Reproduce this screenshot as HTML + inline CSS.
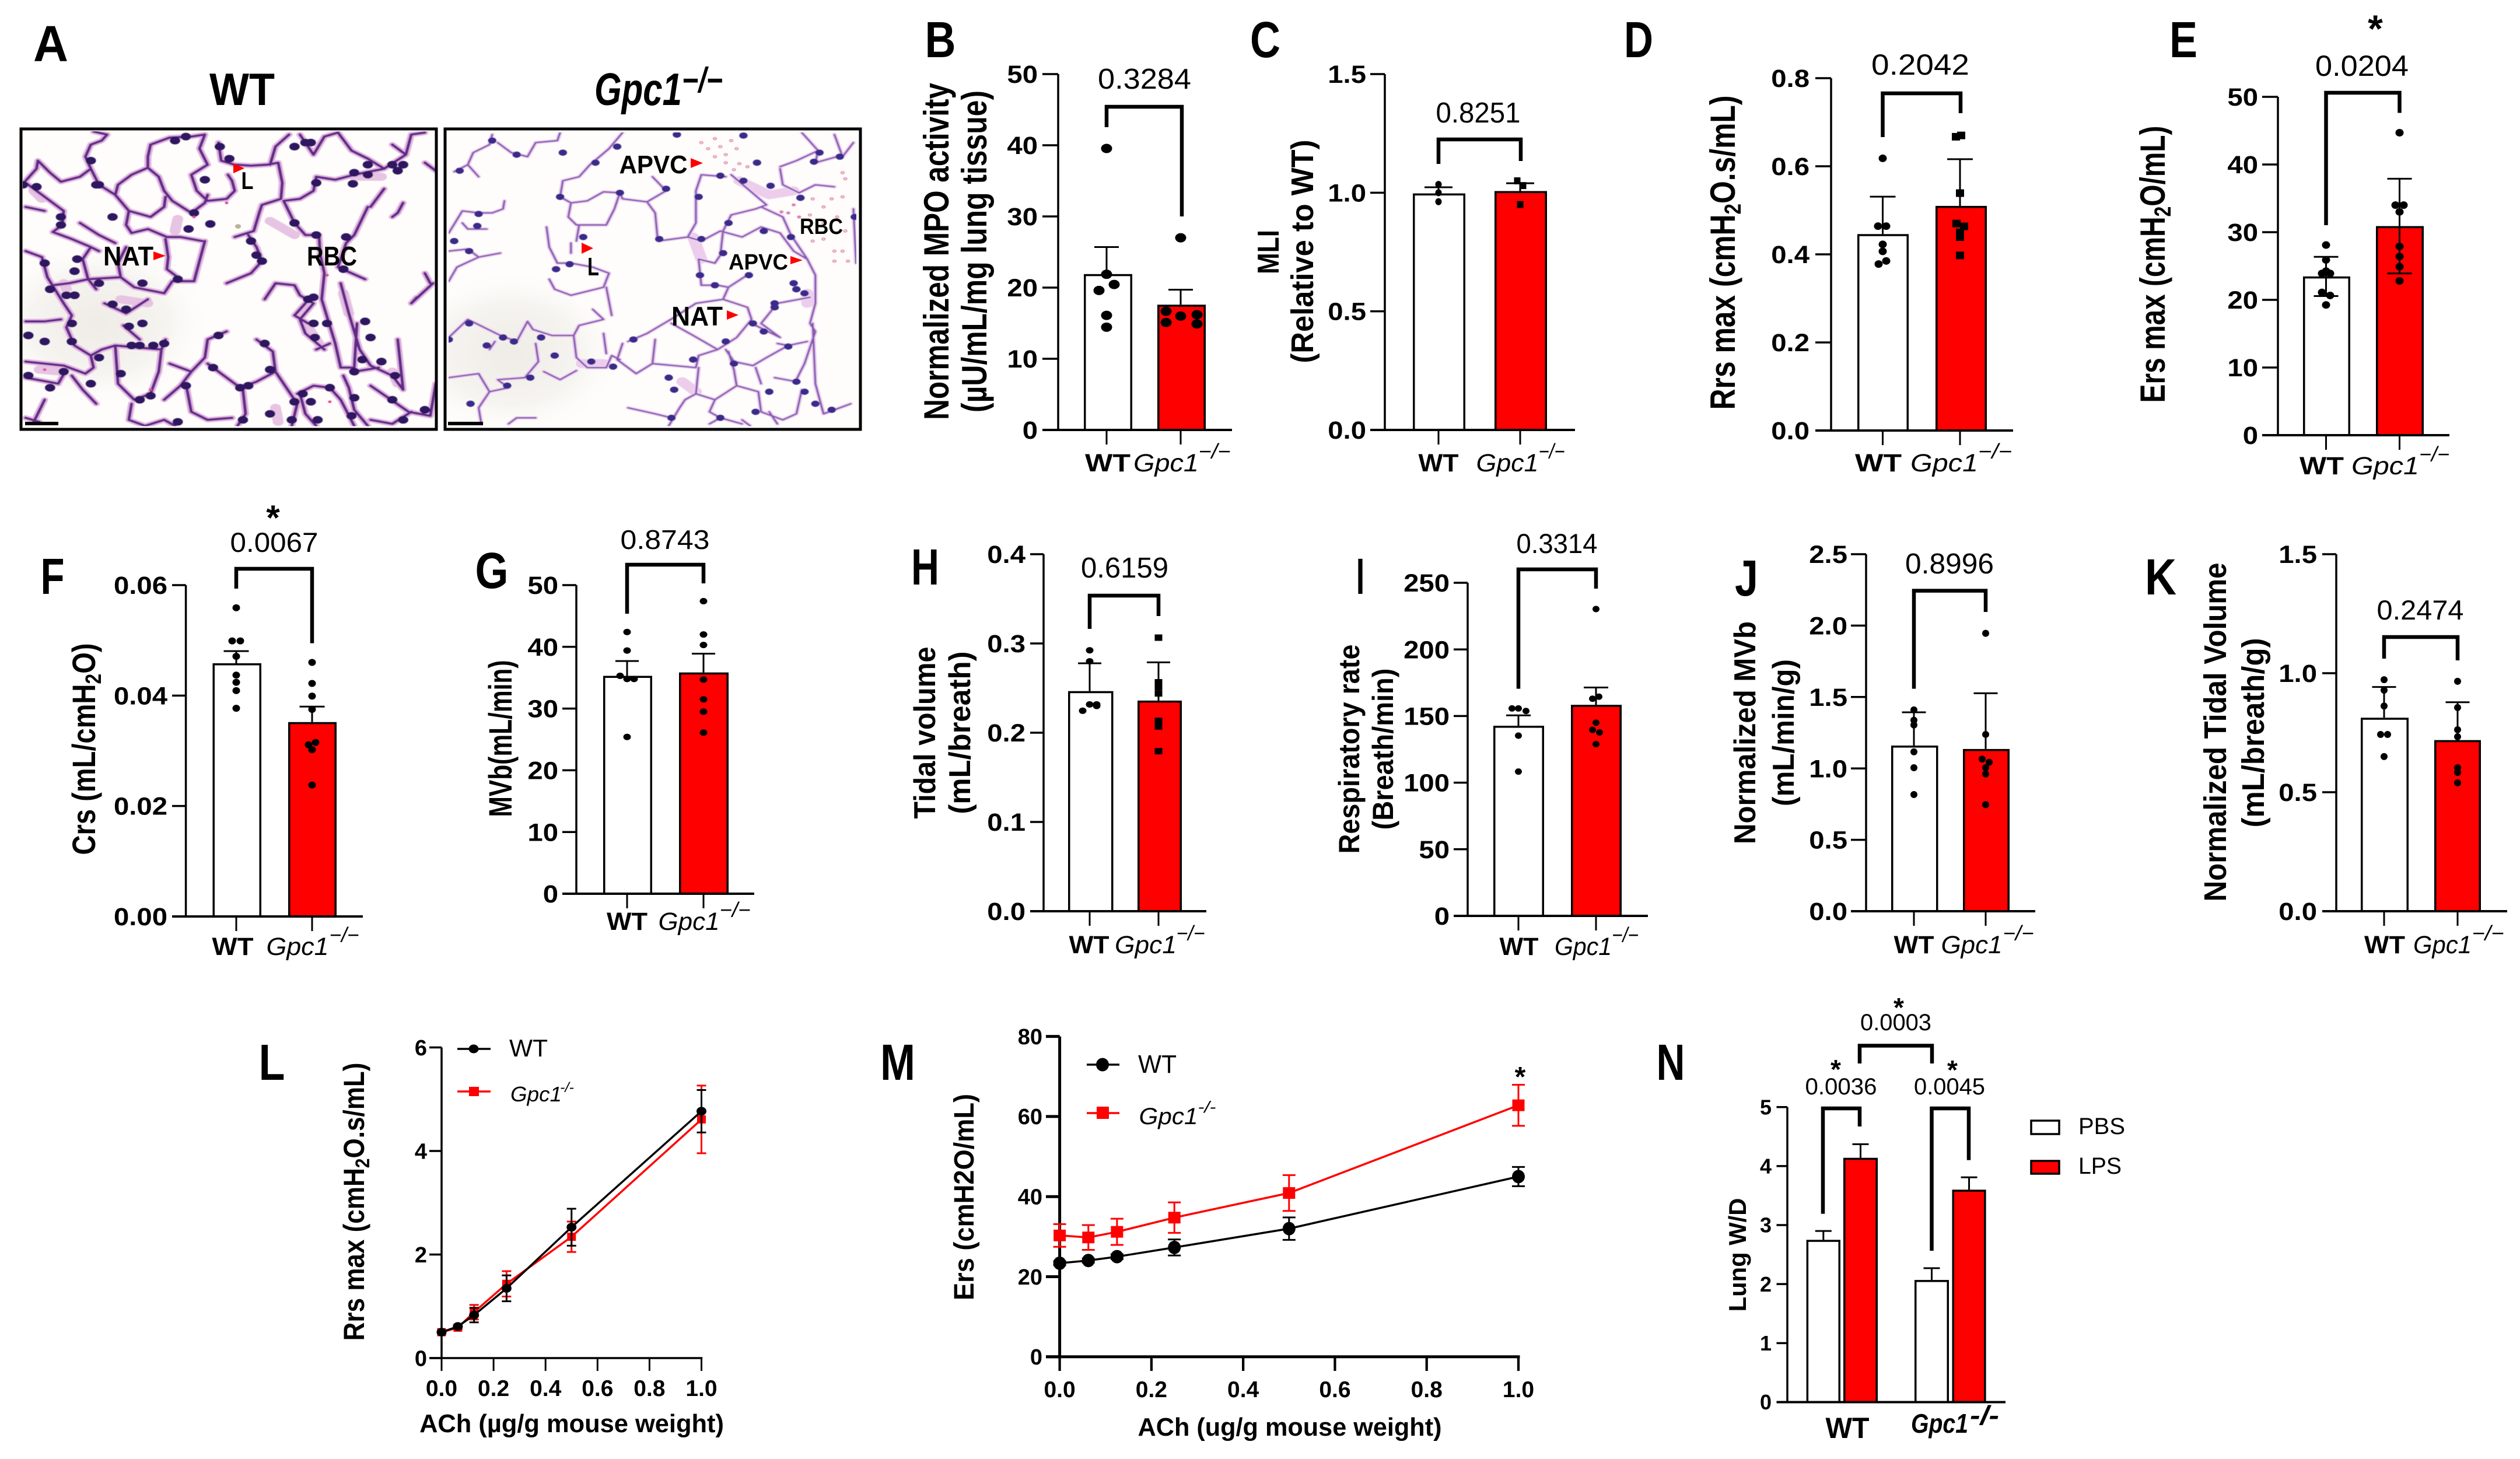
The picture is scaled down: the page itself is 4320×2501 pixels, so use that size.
<!DOCTYPE html>
<html lang="en">
<head>
<meta charset="utf-8">
<title>Lung function panels</title>
<style>
html,body{margin:0;padding:0;background:#fff}
svg{display:block}
text{font-family:"Liberation Sans",Arial,sans-serif;fill:#000;text-anchor:middle}
.b{font-weight:700}
.i{font-style:italic}
.bi{font-weight:700;font-style:italic}
.wall{fill:none;stroke-linejoin:round;stroke-linecap:round}
.dots{fill:none;stroke-linecap:round}
</style>
</head>
<body>
<svg id="fig" xmlns="http://www.w3.org/2000/svg" width="4320" height="2501" viewBox="0 0 4320 2501">
<defs>
<filter id="soft" x="0" y="0" width="1" height="1"><feGaussianBlur stdDeviation="1.6"/></filter>
<radialGradient id="haze" cx=".5" cy=".5" r=".5"><stop offset="0" stop-color="#efece7"/><stop offset=".6" stop-color="#f6f4f0"/><stop offset="1" stop-color="#fefdfb" stop-opacity="0"/></radialGradient>
<clipPath id="clip-wt"><rect x="15" y="32" width="1525" height="1493"/></clipPath>
<clipPath id="clip-ko"><rect x="5" y="32" width="1530" height="1493"/></clipPath>
<path id="wt-walls" d="M280,45 330,60 310,90 270,110 250,170 270,230 230,270 160,295 120,250 75,190 70,230 30,290M30,300 70,340 120,390 170,440 165,510 130,545 200,580 270,620 300,640M480,170 490,110 560,75 640,70 690,60M480,170 480,225 520,270 540,340 570,390 640,450 690,400 700,360M480,225 420,260 370,310 360,360 410,440 490,470 540,420 545,370M270,230 300,310 360,360M410,440 400,510 420,550 480,530 550,570 600,570 680,590M690,60 670,130 700,210 640,260 660,340 700,390 770,380 800,340 790,290 775,260M740,100 750,190 800,210 860,215 920,210 960,200 975,300 970,380 900,410 890,450 870,540 800,570M930,210 950,120 1000,60M1040,60 1090,160 1130,70M980,390 1040,380 1090,340 1100,270 1170,285 1240,260 1350,230 1430,160 1380,110M1180,50 1230,140 1290,180 1350,230M1430,160 1450,60 1500,50M980,390 1020,500 1060,560 1110,560 1115,660 1130,750M1290,420 1240,560 1210,600 1180,720 1280,780M850,560 880,620 900,690 860,750 770,800M690,590 660,740 650,790 570,790 540,850M545,580 555,670 550,730 590,770M270,620 240,680 260,780 290,830M30,640 90,670 110,770 170,900 200,960 180,1020 210,1110 270,1160M130,810 190,800 260,780 380,770M380,770 430,820 540,850M320,900 400,950 480,880M390,1010 450,1080M30,990 100,990 160,980M270,1160 310,1130 360,1110 530,1130 545,1080M360,1110 370,1300 430,1380 490,1350 520,1240 530,1130M270,1160 280,1220 250,1250 170,1210 30,1190M200,1260 240,1330 290,1400M770,1040 700,1080 690,1170 640,1240 600,1310 540,1380M880,1080 940,1140 950,1240 880,1290 820,1320 750,1250 700,1200M830,1330 840,1450 810,1510M950,1240 1000,1340 1030,1400 1010,1510M1030,1350 1090,1310 1150,1320 1190,1380 1240,1510M1130,750 1120,880 1170,1100 1190,1220 1240,1220 1250,1000M1190,800 1220,950 1260,1130 1300,1210 1380,1260 1420,1330 1400,1080M1240,1240 1330,1220M1200,1260 1220,1320 1240,1430 1290,1510M1300,1310 1440,1440 1520,1460 1540,1300M1450,900 1490,850 1530,800M910,880 950,800 1020,810 1040,860 1090,900 1040,980 1060,1050 1130,1130M30,1270 150,1300 180,1230M100,1380 60,1490M1040,1350 1060,1450 1100,1510M420,1400 410,1480 470,1510 540,1480 580,1510M620,1300 640,1440 700,1480 790,1470M1450,1440 1380,1500 1300,1480M1130,70 1180,50M1500,200 1540,240M1350,330 1300,420M1420,400 1400,450 1380,470M30,420 100,440M1500,750 1520,800M1470,870 1450,900M560,1200 640,1240M30,1470 80,1490M1150,1100 1100,1130M230,500 300,560 360,600M400,620 370,700 380,770M1070,1000 1020,960 1060,900"/>
<path id="ko-walls" d="M180,60 170,110 110,150 90,210 40,245M200,100 250,150 310,170 340,100 420,90 430,50M90,210 130,270M440,290 500,270 540,210 610,130 660,50M440,290 430,370 470,400 460,470 490,510 600,510 630,430 650,350 590,345 530,390 470,400M650,350 660,380 750,395 780,450 790,590 900,570 930,500 930,400 930,340 950,260 1040,270M750,395 820,340 770,270M900,570 950,590 1020,540 1100,570 1170,520 1240,550 1290,640 1340,680 1370,760 1370,900 1350,1000 1370,1040 1330,1200 1300,1280M1060,460 1150,430 1190,410 1060,260M1060,460 1030,540 1020,660 1000,700 940,680 950,810 1010,810 1050,820 1130,750M1170,420 1250,470 1280,560 1340,680M1050,820 1030,880 930,900 850,970 750,1050 680,1090M1030,880 1120,920 1135,980 1080,1070 1010,1130 920,1060 840,1000M1135,1000 1240,1070 1170,1000 1230,900 1350,870M1230,1100 1270,1110 1340,1090M1040,1130 1070,1190 1140,1210 1190,1170 1270,1110M1010,1130 940,1160 930,1220 850,1210 770,1200 780,1080M1080,1310 1000,1380 930,1350 940,1220M1080,1310 1070,1230 1050,1140M1080,1310 1160,1340 1170,1440 1250,1480 1300,1450 1320,1330M1150,1220 1170,1300M1220,1270 1300,1290M1000,1380 980,1440 1020,1470 1100,1500M980,1500 1020,1470M830,1510 870,1420 890,1380 930,1350M680,1420 780,1450 840,1470M660,1100 640,1180 710,1250 770,1200M380,520 390,620 420,700 470,700 550,720 610,750 590,820 470,860 410,830 390,780M470,600 470,650M500,510 490,590M600,820 620,960M550,930 590,980 500,1010 480,1060 400,1060 330,1030 310,990 270,1090 210,1060 90,980 20,1070M480,1060 490,1170 530,1220 600,1220 620,1160 650,1180M590,1050 600,1150M340,1100 350,1190 300,1270 200,1280 240,1320 170,1340 130,1420 140,1500M20,1270 130,1250 170,1340M170,1130 190,1090M370,1240 430,1280 490,1235M20,550 70,440 130,450 180,450 220,430 225,390M70,500 90,530 160,530M20,640 90,630 130,670 210,650M20,790 50,720 130,670M240,1500 270,1470 340,1470M1440,60 1470,170 1510,100M1240,220 1300,190 1380,140 1320,50M1240,230 1250,310 1310,350 1370,310 1440,320M1380,140 1370,200 1450,170M1510,430 1520,700M1360,1000 1370,1300 1400,1450 1500,1400M1200,1440 1230,1500M1130,1510 1100,1480"/>
</defs>
<rect width="4320" height="2501" fill="#fff"/>

<!-- Panel A histology WT -->
<g>
<svg x="30" y="210" width="730" height="540" viewBox="0 0 1568 1568" preserveAspectRatio="none">
<g clip-path="url(#clip-wt)">
<rect x="15" y="32" width="1525" height="1493" fill="#fefdfb"/>
<ellipse cx="300" cy="1000" rx="420" ry="420" fill="url(#haze)"/>
<g filter="url(#soft)">
<path class="wall" stroke="#e7c4e3" stroke-width="40" d="M1240,270 1340,270M380,880 480,900M80,1230 160,1240M1060,1000 1110,1100M950,1420 960,1490M590,480 580,540M930,490 1020,560M1200,850 1220,950M60,340 90,380M1380,1240 1400,1300M170,800 180,830"/>
<use href="#wt-walls" class="wall" stroke="#e3b5e0" stroke-width="26"/>
<use href="#wt-walls" class="wall" stroke="#5e2a88" stroke-width="11"/>
<path class="dots" stroke="#2f1560" stroke-width="38" d="M1290,210h0M1240,250h0M1380,210h0M1290,260h0M1400,240h0M300,310h0M350,470h0M630,530h0M710,505h0M580,90h0M690,285h0M780,180h0M1080,100h0M1090,870h0M1070,880h0M1090,1000h0M1095,1070h0M1340,1190h0M1390,1260h0M1240,1370h0M1105,1480h0M1020,1390h0M1050,1350h0M930,1450h0M450,1380h0M490,1360h0M180,860h0M210,860h0M350,905h0M400,930h0M460,1000h0M410,1015h0M540,1100h0M300,1170h0M170,1240h0M270,1300h0M120,1320h0M40,1260h0M450,1110h0M590,780h0M860,590h0M880,660h0M1210,570h0M1200,730h0M1280,990h0M1300,1070h0M220,680h0M210,740h0M300,800h0M460,800h0M20,310h0M290,310h0M270,190h0M70,320h0M160,470h0M1235,305h0M1420,210h0M650,450h0M1020,500h0M740,1060h0M910,1100h0M850,1310h0M930,1230h0M1240,1240h0M1080,1390h0M620,1310h0M100,1090h0M200,1090h0M40,1060h0M1380,1380h0M1060,100h0M620,70h0M745,120h0M1100,300h0M1020,120h0M160,510h0M120,830h0M100,700h0M200,1000h0M420,1110h0M500,1110h0M380,1250h0M720,1220h0M820,1320h0M1150,1320h0M1230,1460h0M1420,1480h0M1500,1430h0M1140,1000h0M1270,1180h0M1100,560h0M900,690h0M590,1490h0M830,1480h0M1010,1480h0"/>
<path class="dots" stroke="#d84f96" stroke-width="13" d="M770,400h0M650,470h0M490,1330h0M1150,1390h0M1140,760h0M100,1230h0"/>
</g>
<path class="dots" stroke="#b8b49a" stroke-width="22" d="M812,517h0"/>
</g>
</svg>
<rect x="36" y="221" width="712" height="515" fill="none" stroke="#000" stroke-width="5"/>
<rect x="43" y="723" width="57" height="6" fill="#000"/>
</g>

<!-- Panel A histology KO -->
<g>
<svg x="760" y="210" width="730" height="540" viewBox="0 0 1568 1568" preserveAspectRatio="none">
<g clip-path="url(#clip-ko)">
<rect x="5" y="32" width="1530" height="1493" fill="#fefdfb"/>
<ellipse cx="250" cy="1150" rx="420" ry="420" fill="url(#haze)"/>
<g filter="url(#soft)">
<path class="wall" stroke="#eccdec" stroke-width="44" d="M1090,290 1200,360 1290,340M920,570 950,680M510,1200 590,1200M880,1290 930,1340M1340,850 1340,900"/>
<use href="#ko-walls" class="wall" stroke="#ecd0ee" stroke-width="17"/>
<use href="#ko-walls" class="wall" stroke="#8459b2" stroke-width="7"/>
<path class="dots" stroke="#3a2a8a" stroke-width="31" d="M60,240h0M180,90h0M270,160h0M440,150h0M640,120h0M560,200h0M515,570h0M415,730h0M465,705h0M125,515h0M95,640h0M130,455h0M40,590h0M860,60h0M1105,65h0M1105,290h0M1205,315h0M1155,200h0M1315,375h0M1385,150h0M1365,195h0M1280,570h0M1290,800h0M1330,850h0M950,580h0M795,580h0M1020,265h0M1220,920h0M1140,1000h0M1070,1200h0M830,1270h0M850,1330h0M1200,1340h0M1330,1340h0M1430,1430h0M1270,1115h0M920,1180h0M700,1080h0M360,1070h0M260,1090h0M220,1070h0M160,1110h0M95,1000h0M20,1080h0M320,1270h0M235,1310h0M410,1160h0M545,1190h0M625,1215h0M1020,1470h0M1150,1440h0M1370,1400h0M1515,470h0M1460,170h0M820,330h0M940,370h0M1050,500h0M1180,540h0M1030,650h0M945,760h0M1000,810h0M1125,760h0M1220,900h0M1180,1040h0M1040,1090h0M650,350h0M430,370h0M1300,1290h0M840,1470h0M100,1400h0M1300,830h0"/>
<path class="dots" stroke="#e07fae" stroke-width="15" d="M950,100h0M975,130h0M1000,80h0M1020,120h0M1040,160h0M1060,90h0M1080,130h0M1000,170h0M1040,200h0M1090,205h0M1120,220h0M1070,235h0M1290,410h0M1360,380h0M1400,420h0M1430,380h0M1470,370h0M1350,460h0M1310,470h0M1400,500h0M1450,470h0M1480,540h0M1360,590h0M1400,580h0M1440,640h0M1470,640h0M1490,690h0M1440,690h0M1470,250h0M1480,280h0M1270,450h0M1245,445h0"/>
<path class="dots" stroke="#fefdfb" stroke-width="6" d="M950,100h0M975,130h0M1000,80h0M1020,120h0M1040,160h0M1060,90h0M1080,130h0M1000,170h0M1040,200h0M1090,205h0M1120,220h0M1070,235h0M1360,380h0M1400,420h0M1430,380h0M1470,370h0M1350,460h0M1400,500h0M1450,470h0M1480,540h0M1360,590h0M1400,580h0M1440,640h0M1470,640h0M1490,690h0M1440,690h0M1470,250h0M1480,280h0"/>
</g>
</g>
</svg>
<rect x="763" y="221" width="712" height="515" fill="none" stroke="#000" stroke-width="5"/>
<rect x="768" y="723" width="60" height="6" fill="#000"/>
</g>

<!-- Histology annotations -->
<path fill="#f00" d="M263,431 284,438.5 263,446ZM400,280 419,288.5 400,297ZM1184,271 1205,279.5 1184,288ZM997,416 1017,425.5 997,435ZM1355,439 1376,446 1355,453ZM1246,532 1266,540 1246,548Z"/>
<text class="b" font-size="46" data-fit="220 455 86">NAT</text>
<text class="b" font-size="42" data-fit="424 324 21">L</text>
<text class="b" font-size="46" data-fit="569 455 86">RBC</text>
<text class="b" font-size="44" data-fit="1120 297 117">APVC</text>
<text class="b" font-size="38" data-fit="1408 401 74">RBC</text>
<text class="b" font-size="44" data-fit="1017 472 20">L</text>
<text class="b" font-size="38" data-fit="1300 462 102">APVC</text>
<text class="b" font-size="46" data-fit="1195 558 88">NAT</text>

<!-- Panel letters -->
<text class="b" font-size="87" data-fit="87 105 60">A</text>
<text class="b" font-size="87" data-fit="1612 98 53">B</text>
<text class="b" font-size="87" data-fit="2169 98 52">C</text>
<text class="b" font-size="87" data-fit="2809 98 50">D</text>
<text class="b" font-size="87" data-fit="3743 98 48">E</text>
<text class="b" font-size="87" data-fit="90 1018 41">F</text>
<text class="b" font-size="87" data-fit="843 1008 57">G</text>
<text class="b" font-size="87" data-fit="1586 1002 48">H</text>
<text class="b" font-size="87" data-fit="2332 1018 14">I</text>
<text class="b" font-size="87" data-fit="2994 1021 40">J</text>
<text class="b" font-size="87" data-fit="3704 1019 54">K</text>
<text class="b" font-size="87" data-fit="466 1851 45">L</text>
<text class="b" font-size="87" data-fit="1539 1851 60">M</text>
<text class="b" font-size="87" data-fit="2864 1851 49">N</text>

<!-- Panel A titles -->
<text class="b" font-size="78" data-fit="415 180 112">WT</text>
<text class="bi" font-size="78" data-fit="1094 180 150">Gpc1</text>
<text class="bi" font-size="60" data-fit="1204 158 70">−/−</text>

<!-- Y axis titles -->
<text class="b" font-size="60" data-fit="1626 431 578 r">Normalized MPO activity</text>
<text class="b" font-size="60" data-fit="1691 431 552 r">(µU/mL/mg lung tissue)</text>
<text class="b" font-size="52" data-fit="2192 432 76 r">MLI</text>
<text class="b" font-size="54" data-fit="2251 431 383 r">(Relative to WT)</text>
<text class="b" font-size="60" data-fit="2974 433 539 r">Rrs max (cmH<tspan font-size="40" dy="10">2</tspan><tspan dy="-10">O.s/mL)</tspan></text>
<text class="b" font-size="60" data-fit="3711 453 475 r">Ers max (cmH<tspan font-size="40" dy="10">2</tspan><tspan dy="-10">O/mL)</tspan></text>
<text class="b" font-size="56" data-fit="163 1284 363 r">Crs  (mL/cmH<tspan font-size="38" dy="10">2</tspan><tspan dy="-10">O)</tspan></text>
<text class="b" font-size="56" data-fit="877 1266 269 r">MVb(mL/min)</text>
<text class="b" font-size="52" data-fit="1603 1256 295 r">Tidal volume</text>
<text class="b" font-size="52" data-fit="1663 1256 279 r">(mL/breath)</text>
<text class="b" font-size="50" data-fit="2330 1284 359 r">Respiratory rate</text>
<text class="b" font-size="50" data-fit="2388 1284 277 r">(Breath/min)</text>
<text class="b" font-size="52" data-fit="3009 1256 382 r">Normalized MVb</text>
<text class="b" font-size="52" data-fit="3075 1256 252 r">(mL/min/g)</text>
<text class="b" font-size="54" data-fit="3816 1255 581 r">Normalized Tidal Volume</text>
<text class="b" font-size="54" data-fit="3881 1256 325 r">(mL/breath/g)</text>
<text class="b" font-size="50" data-fit="624 2060 477 r">Rrs max (cmH<tspan font-size="34" dy="9">2</tspan><tspan dy="-9">O.s/mL)</tspan></text>
<text class="b" font-size="48" data-fit="1669 2052 354 r">Ers (cmH2O/mL)</text>
<text class="b" font-size="42" data-fit="2993 2151 195 r">Lung W/D</text>

<!-- X axis titles -->
<text class="b" font-size="44" data-fit="980 2455 522">ACh (µg/g mouse weight)</text>
<text class="b" font-size="44" data-fit="2211 2461 521">ACh (ug/g mouse weight)</text>

<!-- P values -->
<text font-size="49" data-fit="1962 152 160">0.3284</text>
<text font-size="49" data-fit="2534 210 145">0.8251</text>
<text font-size="50" data-fit="3292 128 168">0.2042</text>
<text font-size="50" data-fit="4049 130 160">0.0204</text>
<text font-size="47" data-fit="470 946 151">0.0067</text>
<text font-size="46" data-fit="1140 941 153">0.8743</text>
<text font-size="49" data-fit="1928 990 150">0.6159</text>
<text font-size="47" data-fit="2669 948 139">0.3314</text>
<text font-size="49" data-fit="3342 983 152">0.8996</text>
<text font-size="47" data-fit="4149 1062 149">0.2474</text>
<text font-size="40" data-fit="3156 1876 123">0.0036</text>
<text font-size="40" data-fit="3342 1876 122">0.0045</text>
<text font-size="40" data-fit="3250 1766 122">0.0003</text>

<!-- Significance stars -->
<text class="b" font-size="66" x="4072" y="72">*</text>
<text class="b" font-size="60" x="468" y="908">*</text>
<text class="b" font-size="48" x="2606" y="1862">*</text>
<text class="b" font-size="46" x="3147" y="1849">*</text>
<text class="b" font-size="46" x="3347" y="1850">*</text>
<text class="b" font-size="46" x="3255" y="1743">*</text>

<!-- Category labels -->
<text class="b" font-size="43" data-fit="1899 808 78">WT</text>
<text class="i" font-size="43" data-fit="1999 808 112">Gpc1</text>
<text class="i" font-size="36" data-fit="2082 786 55">−/−</text>
<text class="b" font-size="43" data-fit="2466 808 69">WT</text>
<text class="i" font-size="43" data-fit="2584 808 107">Gpc1</text>
<text class="i" font-size="36" data-fit="2660 786 45">−/−</text>
<text class="b" font-size="43" data-fit="3220 808 80">WT</text>
<text class="i" font-size="43" data-fit="3333 808 116">Gpc1</text>
<text class="i" font-size="36" data-fit="3420 786 58">−/−</text>
<text class="b" font-size="43" data-fit="3980 813 76">WT</text>
<text class="i" font-size="43" data-fit="4089 813 116">Gpc1</text>
<text class="i" font-size="36" data-fit="4173 791 52">−/−</text>
<text class="b" font-size="43" data-fit="399 1637 71">WT</text>
<text class="i" font-size="43" data-fit="510 1637 107">Gpc1</text>
<text class="i" font-size="36" data-fit="590 1615 51">−/−</text>
<text class="b" font-size="43" data-fit="1075 1594 70">WT</text>
<text class="i" font-size="43" data-fit="1181 1594 105">Gpc1</text>
<text class="i" font-size="36" data-fit="1260 1572 53">−/−</text>
<text class="b" font-size="43" data-fit="1867 1634 69">WT</text>
<text class="i" font-size="43" data-fit="1964 1634 106">Gpc1</text>
<text class="i" font-size="36" data-fit="2041 1612 49">−/−</text>
<text class="b" font-size="43" data-fit="2604 1637 67">WT</text>
<text class="i" font-size="43" data-fit="2714 1637 98">Gpc1</text>
<text class="i" font-size="36" data-fit="2786 1615 46">−/−</text>
<text class="b" font-size="43" data-fit="3281 1634 69">WT</text>
<text class="i" font-size="43" data-fit="3380 1634 105">Gpc1</text>
<text class="i" font-size="36" data-fit="3460 1612 53">−/−</text>
<text class="b" font-size="43" data-fit="4088 1634 70">WT</text>
<text class="i" font-size="43" data-fit="4187 1634 100">Gpc1</text>
<text class="i" font-size="36" data-fit="4265 1612 55">−/−</text>
<text class="b" font-size="50" data-fit="3167 2465 75">WT</text>
<text class="bi" font-size="46" data-fit="3325 2456 98">Gpc1</text>
<text class="bi" font-size="46" data-fit="3402 2442 50">-/-</text>

<!-- Legends -->
<g>
<g>
<line x1="784" y1="1798" x2="841" y2="1798" stroke="#000" stroke-width="3.5"/>
<ellipse cx="812" cy="1798" rx="8.5" ry="7.5" fill="#000"/>
<text font-size="42" data-fit="906 1811 66">WT</text>
</g>
<g>
<line x1="784" y1="1871" x2="841" y2="1871" stroke="#f00" stroke-width="3.5"/>
<rect x="804" y="1863" width="17" height="16" fill="#f00"/>
<text class="i" font-size="36" data-fit="919 1888 88">Gpc1</text>
<text class="i" font-size="24" data-fit="972 1872 24">-/-</text>
</g>
</g>
<g>
<g>
<line x1="1863" y1="1825" x2="1919" y2="1825" stroke="#000" stroke-width="3.5"/>
<ellipse cx="1890" cy="1825" rx="11" ry="11.5" fill="#000"/>
<text font-size="44" data-fit="1984 1839 66">WT</text>
</g>
<g>
<line x1="1863" y1="1908" x2="1919" y2="1908" stroke="#f00" stroke-width="3.5"/>
<rect x="1880" y="1897" width="21" height="21" fill="#f00"/>
<text class="i" font-size="40" data-fit="2003 1927 101">Gpc1</text>
<text class="i" font-size="28" data-fit="2069 1907 31">-/-</text>
</g>
</g>
<g>
<g>
<rect x="3482" y="1921" width="48" height="23" fill="#fff" stroke="#000" stroke-width="3.5"/>
<text font-size="40" data-fit="3603 1944 80">PBS</text>
</g>
<g>
<rect x="3482" y="1990" width="48" height="22" fill="#f00" stroke="#000" stroke-width="3.5"/>
<text font-size="40" data-fit="3600 2012 74">LPS</text>
</g>
</g>

<g id="charts"></g>
</svg>

<script>
// ---- Panel B ----
const bYTicks = ['0','10','20','30','40','50'];
const bMeans = [21.9, 17.6];
const bErrors = [3.8, 2.1];
const bWtPoints = [39.55, 21.87, 20.44, 19.6, 16.1, 14.44];
const bKoPoints = [27, 16.67, 16, 16.2, 15.1, 14.9];
// ---- Panel C ----
const cYTicks = ['0.0','0.5','1.0','1.5'];
const cMeans = [0.997, 1.007];
const cErrors = [0.026, 0.033];
const cWtPoints = [1.035, 1.0, 0.962];
const cKoPoints = [1.05, 1.03, 0.95];
// ---- Panel D ----
const dYTicks = ['0.0','0.2','0.4','0.6','0.8'];
const dMeans = [0.446, 0.51];
const dErrors = [0.085, 0.106];
const dWtPoints = [0.618, 0.464, 0.464, 0.4226, 0.4068, 0.385, 0.378];
const dKoPoints = [0.67, 0.667, 0.539, 0.47, 0.4635, 0.45, 0.439, 0.3975];
// ---- Panel E ----
const eYTicks = ['0','10','20','30','40','50'];
const eMeans = [23.46, 30.9];
const eErrors = [2.9, 7.0];
const eWtPoints = [28.1, 25.9, 24.25, 23.9, 23.9, 21.1, 20.65, 19.25];
const eKoPoints = [44.7, 34, 34, 33, 27.9, 26.4, 24.9, 22.8];
// ---- Panel F ----
const fYTicks = ['0.00','0.02','0.04','0.06'];
const fMeans = [0.04585, 0.0352];
const fErrors = [0.0022, 0.0028];
const fWtPoints = [0.0559, 0.0499, 0.0499, 0.0471, 0.0437, 0.0424, 0.0409, 0.0377];
const fKoPoints = [0.046, 0.0422, 0.0399, 0.0375, 0.0315, 0.0311, 0.0302, 0.0238];
// ---- Panel G ----
const gYTicks = ['0','10','20','30','40','50'];
const gMeans = [35.3, 35.85];
const gErrors = [2.4, 3.05];
const gWtPoints = [42.4, 39.4, 35.3, 34.8, 34.8, 25.4];
const gKoPoints = [47.4, 42, 40.3, 34.7, 31.5, 29.5, 26.1];
// ---- Panel H ----
const hYTicks = ['0.0','0.1','0.2','0.3','0.4'];
const hMeans = [0.2466, 0.236];
const hErrors = [0.0312, 0.0428];
const hWtPoints = [0.2923, 0.28, 0.2317, 0.2317, 0.23, 0.2246];
const hKoPoints = [0.3065, 0.2565, 0.2512, 0.244, 0.2133, 0.207, 0.1793];
// ---- Panel I ----
const iYTicks = ['0','50','100','150','200','250'];
const iMeans = [142.7, 158.4];
const iErrors = [7.8, 13];
const iWtPoints = [155.7, 155.7, 153.8, 135.3, 108.3];
const iKoPoints = [230.3, 164.5, 163, 145, 139.6, 137.7, 128.9];
// ---- Panel J ----
const jYTicks = ['0.0','0.5','1.0','1.5','2.0','2.5'];
const jMeans = [1.16, 1.136];
const jErrors = [0.233, 0.39];
const jWtPoints = [1.41, 1.3375, 1.304, 1.116, 1.005, 0.817];
const jKoPoints = [1.946, 1.238, 1.065, 1.043, 1.005, 0.961, 0.746];
// ---- Panel K ----
const kYTicks = ['0.0','0.5','1.0','1.5'];
const kMeans = [0.813, 0.719];
const kErrors = [0.129, 0.159];
const kWtPoints = [0.9726, 0.9287, 0.862, 0.7427, 0.7427, 0.6497];
const kKoPoints = [0.966, 0.8556, 0.7626, 0.733, 0.603, 0.583, 0.5394];
// ---- Panel L ----
const doseValues = [0, 0.0625, 0.125, 0.25, 0.5, 1];
const doseTicks = ['0.0','0.2','0.4','0.6','0.8','1.0'];
const lYTicks = ['0','2','4','6'];
const lWtValues = [0.5, 0.61, 0.83, 1.347, 2.528, 4.768];
const lWtErrors = [0.02, 0.02, 0.14, 0.25, 0.357, 0.41];
const lKoValues = [0.5, 0.587, 0.887, 1.434, 2.343, 4.61];
const lKoErrors = [0.02, 0.03, 0.14, 0.245, 0.294, 0.654];
// ---- Panel M ----
const mYTicks = ['0','20','40','60','80'];
const mWtValues = [23.37, 24.04, 25, 27.3, 32, 45];
const mWtErrors = [0.5, 0.5, 0.6, 2, 2.8, 2.4];
const mKoValues = [30.3, 29.8, 31.2, 34.75, 40.9, 62.8];
const mKoErrors = [2.83, 3.1, 3.27, 3.8, 4.47, 5.13];
// ---- Panel N ----
const nYTicks = ['0','1','2','3','4','5'];
const nMeans = [2.75, 4.14, 2.07, 3.6];
const nErrors = [0.15, 0.23, 0.2, 0.21];

// ---- Layout (pixel geometry only, separate from the values above) ----
const barPanels = [
 {id:'b', ticks:bYTicks, means:bMeans, errors:bErrors, wt:bWtPoints, ko:bKoPoints, box:{ax:1814,y0:737,yt:127,tick:1787,end:2112,lab:1779}, bars:[[1858,1941],[1984,2067]], xt:[1897,2024], cap:21, rx:9.5, ry:8, koShape:'circle', wtShift:[0,0,13,-13,0,0], koShift:[0,-25,0,28,-25,28], br:[[1897,2026,183,218,371]]},
 {id:'c', ticks:cYTicks, means:cMeans, errors:cErrors, wt:cWtPoints, ko:cKoPoints, box:{ax:2374,y0:737,yt:127,tick:2349,end:2700,lab:2342}, bars:[[2422,2512],[2562,2652]], xt:[2466,2606], cap:24, rx:5.5, ry:6, koShape:'square', wtShift:[], koShift:[-5,5,0], br:[[2466,2607,239,281,276]]},
 {id:'d', ticks:dYTicks, means:dMeans, errors:dErrors, wt:dWtPoints, ko:dKoPoints, box:{ax:3139,y0:738,yt:134,tick:3112,end:3451,lab:3102}, bars:[[3184,3272],[3318,3406]], xt:[3227.5,3360], cap:22, rx:7, ry:6.5, koShape:'square', wtShift:[0,-8,6,0,0,6,-7], koShift:[2,-7,0,-6,7,0,0,0], br:[[3227.5,3361,160,235,194]]},
 {id:'e', ticks:eYTicks, means:eMeans, errors:eErrors, wt:eWtPoints, ko:eKoPoints, box:{ax:3905,y0:746,yt:166,tick:3878,end:4199,lab:3871}, bars:[[3948,4029],[4073,4155]], xt:[3987.5,4113.5], cap:21, rx:7, ry:6.5, koShape:'circle', both:true, wtShift:[0,0,0,-7,7,-7,7,0], koShift:[0,-7,7,0,0,0,0,0], br:[[3987.5,4113.5,159,386,193.5]]},
 {id:'f', ticks:fYTicks, means:fMeans, errors:fErrors, wt:fWtPoints, ko:fKoPoints, box:{ax:318.6,y0:1571,yt:1003,tick:295,end:622,lab:287}, bars:[[364.5,448],[494,577]], xt:[405,535], cap:21.5, rx:6.5, ry:6, koShape:'circle', wtShift:[0,-7,7,0,0,0,0,0], koShift:[0,0,0,0,6,-6,0,0], br:[[405,535,975,1009,1102.6]]},
 {id:'g', ticks:gYTicks, means:gMeans, errors:gErrors, wt:gWtPoints, ko:gKoPoints, box:{ax:988,y0:1532,yt:1003,tick:964,end:1293,lab:957}, bars:[[1034,1118],[1164,1249]], xt:[1075,1206], cap:20, rx:6.5, ry:5.5, koShape:'circle', wtShift:[0,0,-12,0,12,0], koShift:[], br:[[1075,1206,968,1052,1000]]},
 {id:'h', ticks:hYTicks, means:hMeans, errors:hErrors, wt:hWtPoints, ko:hKoPoints, box:{ax:1789,y0:1562,yt:950,tick:1766,end:2068,lab:1758}, bars:[[1831,1908.5],[1950,2026]], xt:[1868,1986], cap:20, rx:6.5, ry:5.5, koShape:'square', wtShift:[0,0,0,12,12,-12], koShift:[], br:[[1868,1986,1021,1078,1056]]},
 {id:'i', ticks:iYTicks, means:iMeans, errors:iErrors, wt:iWtPoints, ko:iKoPoints, box:{ax:2516,y0:1570,yt:999,tick:2492,end:2825,lab:2485}, bars:[[2560,2647],[2693,2780]], xt:[2603,2736], cap:21, rx:6, ry:5.5, koShape:'circle', wtShift:[-11,0,13,0,0], koShift:[0,5,-6,0,-6,6,0], br:[[2603,2736,976,1180.6,1009]]},
 {id:'j', ticks:jYTicks, means:jMeans, errors:jErrors, wt:jWtPoints, ko:jKoPoints, box:{ax:3199,y0:1562,yt:950,tick:3173,end:3489,lab:3167}, bars:[[3242,3322.5],[3365,3445]], xt:[3281,3404], cap:20.5, rx:6, ry:6, koShape:'circle', wtShift:[], koShift:[0,0,-6,6,0,0,0], br:[[3281,3404,1012.6,1180.6,1049]]},
 {id:'k', ticks:kYTicks, means:kMeans, errors:kErrors, wt:kWtPoints, ko:kKoPoints, box:{ax:4005,y0:1562,yt:950,tick:3981,end:4298,lab:3972}, bars:[[4047,4129],[4173,4253]], xt:[4087,4213], cap:20.5, rx:6, ry:6, koShape:'circle', wtShift:[0,0,0,-6,6,0], koShift:[], br:[[4087,4213,1092,1129,1132]]},
 {id:'n', ticks:nYTicks, means:nMeans, errors:nErrors, box:{ax:3064,y0:2403.5,yt:1897.7,tick:3045.5,end:3438,lab:3037}, bars:[[3096.6,3155],[3160,3219],[3282,3341],[3346.5,3404.6]], xt:[], cap:14, tickFont:36, tickScale:1, br:[[3125,3188,1900,2080.6,1931],[3311.5,3375,1900,2144,1988.6],[3188,3312,1792.5,1823,1823]]}
];
const linePanels = [
 {id:'l', ticks:lYTicks, wt:lWtValues, wtErr:lWtErrors, ko:lKoValues, koErr:lKoErrors, box:{ax:757,y0:2328,yt:1795.5,x1:1202.5,tick:736,xBottom:2350,lab:732,xLab:2393,axisW:3.5}, circle:[8.5,7.5], square:[15,14], cap:8},
 {id:'m', ticks:mYTicks, wt:mWtValues, wtErr:mWtErrors, ko:mKoValues, koErr:mKoErrors, box:{ax:1816.6,y0:2325.8,yt:1776.6,x1:2603,tick:1793,xBottom:2350,lab:1787,xLab:2395,axisW:5}, circle:[11,11.5], square:[21,20], cap:11}
];

const NS = 'http://www.w3.org/2000/svg';
const chartsRoot = document.getElementById('charts');

function mk(parent, tag, attrs) {
  const el = document.createElementNS(NS, tag);
  for (const k in attrs) el.setAttribute(k, attrs[k]);
  parent.appendChild(el);
  return el;
}
function yAxisScale(box, ticks) {
  const max = parseFloat(ticks[ticks.length - 1]);
  return v => box.y0 - (v / max) * (box.y0 - box.yt);
}
function drawYAxis(g, box, ticks, yScale, font, scaleX, w) {
  const axis = mk(g, 'line', {x1: box.ax, y1: box.yt, x2: box.ax, y2: box.y0, stroke: '#000', 'stroke-width': w});
  
  
  ticks.forEach(t => {
    const y = yScale(parseFloat(t));
    const tk = mk(g, 'line', {x1: box.tick, y1: y, x2: box.ax, y2: y, stroke: '#000', 'stroke-width': w});
    
    
    const lb = mk(g, 'text', {'class': 'b', 'font-size': font, transform: 'translate(' + box.lab + ',' + (y + font * 0.35) + ') scale(' + scaleX + ',1)', style: 'text-anchor:end'});
    lb.textContent = t;
    
    
  });
}
function drawErrorBar(g, x, yMean, yHigh, yLow, cap, color, w) {
  const eb = mk(g, 'path', {d: 'M' + x + ',' + yLow + 'V' + yHigh + 'M' + (x - cap) + ',' + yHigh + 'H' + (x + cap) + (yLow !== yMean ? 'M' + (x - cap) + ',' + yLow + 'H' + (x + cap) : ''), stroke: color, 'stroke-width': w, fill: 'none'});
  
  
}

barPanels.forEach(p => {
  const g = mk(chartsRoot, 'g', {});
  
  
  const y = yAxisScale(p.box, p.ticks);
  const sw = 3.5;
  // Bars and their error bars
  p.means.forEach((m, i) => {
    const [l, r] = p.bars[i];
    const cx = (l + r) / 2;
    const filled = p.id === 'n' ? i % 2 === 1 : i === 1;
    const top = y(m);
    const bar = mk(g, 'rect', {x: l + sw / 2, y: top + sw / 2, width: r - l - sw, height: Math.max(0, p.box.y0 - top - sw / 2), fill: filled ? '#f00' : '#fff', stroke: '#000', 'stroke-width': sw});
    
    
    const cxErr = p.xt.length ? p.xt[i] : cx;
    drawErrorBar(g, cxErr, top, y(m + p.errors[i]), p.both ? y(m - p.errors[i]) : top, p.cap, '#000', 3);
  });
  // Axes
  drawYAxis(g, p.box, p.ticks, y, p.tickFont || 43, p.tickScale || 1.1, 3.5);
  const base = mk(g, 'line', {x1: p.box.tick, y1: p.box.y0, x2: p.box.end, y2: p.box.y0, stroke: '#000', 'stroke-width': 4});
  
  
  p.xt.forEach(x => {
    const t = mk(g, 'line', {x1: x, y1: p.box.y0, x2: x, y2: p.box.y0 + 25, stroke: '#000', 'stroke-width': 3});
    
    
  });
  // Individual points
  if (p.wt) {
    [p.wt, p.ko].forEach((vals, gi) => {
      const cx = p.xt[gi];
      const shift = gi === 0 ? p.wtShift : p.koShift;
      vals.forEach((v, j) => {
        const py = y(v);
        const px = cx + (shift[j] || 0);
        const square = gi === 1 && p.koShape === 'square';
        const pt = square
          ? mk(g, 'rect', {x: px - p.rx, y: py - p.ry, width: p.rx * 2, height: p.ry * 2, fill: '#000'})
          : mk(g, 'ellipse', {cx: px, cy: py, rx: p.rx, ry: p.ry, fill: '#000'});
        
        
      });
    });
  }
  // Significance brackets
  p.br.forEach(b => {
    const br = mk(g, 'path', {d: 'M' + b[0] + ',' + b[3] + 'V' + b[2] + 'H' + b[1] + 'V' + b[4], fill: 'none', stroke: '#000', 'stroke-width': 6.5});
    
    
  });
});

linePanels.forEach(p => {
  const g = mk(chartsRoot, 'g', {});
  
  
  const b = p.box;
  const y = yAxisScale(b, p.ticks);
  const x = v => b.ax + v * (b.x1 - b.ax);
  drawYAxis(g, b, p.ticks, y, 38, 1, b.axisW);
  const base = mk(g, 'line', {x1: b.tick, y1: b.y0, x2: b.x1 + b.axisW / 2, y2: b.y0, stroke: '#000', 'stroke-width': b.axisW});
  
  
  doseTicks.forEach(t => {
    const tx = x(parseFloat(t));
    const tk = mk(g, 'line', {x1: tx, y1: b.y0, x2: tx, y2: b.xBottom, stroke: '#000', 'stroke-width': b.axisW * 0.85});
    
    
    const lb = mk(g, 'text', {'class': 'b', 'font-size': 39, x: tx, y: b.xLab});
    lb.textContent = t;
    
    
  });
  const series = [
    {name: 'gpc1', vals: p.ko, errs: p.koErr, color: '#f00'},
    {name: 'wt', vals: p.wt, errs: p.wtErr, color: '#000'}
  ];
  series.forEach(s => {
    const lineEl = mk(g, 'polyline', {points: s.vals.map((v, i) => x(doseValues[i]) + ',' + y(v)).join(' '), fill: 'none', stroke: s.color, 'stroke-width': 3.5});
    
    
    s.vals.forEach((v, i) => {
      const cx = x(doseValues[i]);
      drawErrorBar(g, cx, y(v) + 0.001, y(v + s.errs[i]), y(v - s.errs[i]), p.cap, s.color, 3);
      let mark;
      if (s.name === 'wt') {
        mark = mk(g, 'ellipse', {cx: cx, cy: y(v), rx: p.circle[0], ry: p.circle[1], fill: s.color});
      } else {
        mark = mk(g, 'rect', {x: cx - p.square[0] / 2, y: y(v) - p.square[1] / 2, width: p.square[0], height: p.square[1], fill: s.color});
      }
      
      
    });
  });
});

// Fit every labelled string to its measured width
document.querySelectorAll('[data-fit]').forEach(t => {
  const f = t.getAttribute('data-fit').split(' ');
  const len = t.getComputedTextLength() || 1;
  const k = parseFloat(f[2]) / len;
  const rot = f[3] === 'r' ? ' rotate(-90)' : '';
  t.setAttribute('transform', 'translate(' + f[0] + ',' + f[1] + ')' + rot + ' scale(' + k + ',1)');
});
</script>
</body>
</html>
